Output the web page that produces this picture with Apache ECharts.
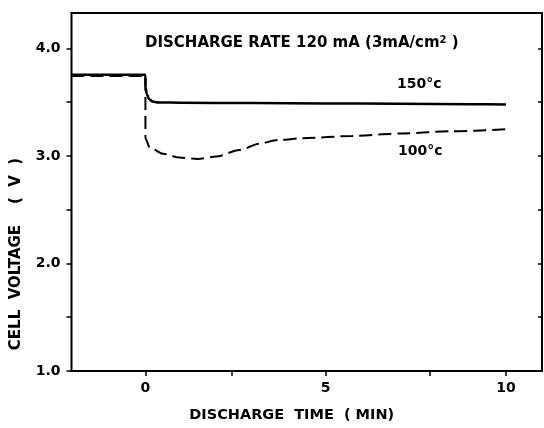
<!DOCTYPE html>
<html><head><meta charset="utf-8">
<script src="https://cdn.jsdelivr.net/npm/echarts@6/dist/echarts.min.js"></script>
<style>html,body{margin:0;padding:0;background:#fff}#c{width:544px;height:428px}</style>
</head><body><div id="c"></div>
<script>
// Data (time in min, voltage in V)
const xTickValues = [0, 2.4, 5, 7.9, 10];
const xLabelValues = [0, 5, 10];
const yTickLabels = [1, 2, 3, 4];
const curve150 = [[-2.05,3.755],[0,3.755],[0.001,3.64],[0.04,3.575],[0.1,3.53],[0.2,3.507],[0.35,3.498],[1,3.495],[3,3.492],[5,3.489],[7,3.486],[9,3.481],[10,3.478]];
const curve100 = [[-2.05,3.745],[0,3.745],[0.001,3.16],[0.12,3.08],[0.49,3.02],[0.95,2.985],[1.45,2.972],[1.96,2.995],[2.61,3.055],[3.16,3.115],[3.67,3.148],[4.36,3.165],[5.74,3.186],[7.12,3.21],[8.5,3.23],[10,3.248]];
const seriesNames = ['150°c', '100°c'];

const font = '"DejaVu Sans",sans-serif';
const chart = echarts.init(document.getElementById('c'));
chart.setOption({
  animation: false,
  backgroundColor: '#fff',
  grid: { left: 71.5, right: 2, top: 13, bottom: 54, show: true, borderColor: '#000', borderWidth: 2 },
  xAxis: {
    type: 'value', min: -2.05, max: 11,
    name: 'DISCHARGE  TIME  ( MIN)', nameLocation: 'middle', nameGap: 37,
    nameTextStyle: { fontFamily: font, fontWeight: 'bold', fontSize: 14.5, color: '#000', padding: [0, 30, 0, 0] },
    axisLine: { show: false, onZero: false },
    axisTick: { show: true, customValues: xTickValues, length: 5, lineStyle: { color: '#000', width: 1.5 } },
    axisLabel: { customValues: xLabelValues, fontFamily: font, fontWeight: 'bold', fontSize: 14, color: '#000', margin: 10 },
    splitLine: { show: false }
  },
  yAxis: [{
    type: 'value', min: 1, max: 4.33, interval: 0.5,
    axisLine: { show: false, onZero: false },
    axisTick: { show: true, length: 5, lineStyle: { color: '#000', width: 1.5 } },
    axisLabel: { fontFamily: font, fontWeight: 'bold', fontSize: 14, color: '#000', margin: 11, showMaxLabel: false,
      formatter: v => yTickLabels.includes(v) ? v.toFixed(1) : '' },
    splitLine: { show: false }
  }, {
    type: 'value', min: 1, max: 4.33, interval: 0.5, position: 'right',
    axisLine: { show: false, onZero: false },
    axisTick: { show: true, inside: true, length: 4, lineStyle: { color: '#000', width: 1.5 } },
    axisLabel: { show: false }, splitLine: { show: false }
  }],
  series: [{
    name: seriesNames[0], type: 'line', data: curve150, showSymbol: false, smooth: 0.3, smoothMonotone: 'x',
    lineStyle: { color: '#000', width: 2.5, type: 'solid' }
  }, {
    name: seriesNames[1], type: 'line', data: curve100, showSymbol: false, smooth: 0.3, smoothMonotone: 'x',
    lineStyle: { color: '#000', width: 2, type: [13, 6] }
  }],
  graphic: [
    { type: 'text', x: 16, y: 254, rotation: Math.PI / 2, style: { text: 'CELL  VOLTAGE    (  V  )', fontFamily: font, fontWeight: 'bold', fontSize: 15, fill: '#000', align: 'center', verticalAlign: 'middle' } },
    { type: 'text', left: 145, top: 35, style: { text: 'DISCHARGE RATE 120 mA (3mA/cm{s|2} )', fontFamily: font, fontWeight: 'bold', fontSize: 15, fill: '#000',
      rich: { s: { fontSize: 10, fontWeight: 'bold', fontFamily: font, verticalAlign: 'top', padding: [0,0,6,0] } } } },
    { type: 'text', left: 397, top: 77, style: { text: seriesNames[0], fontFamily: font, fontWeight: 'bold', fontSize: 14, fill: '#000' } },
    { type: 'text', left: 398, top: 144, style: { text: seriesNames[1], fontFamily: font, fontWeight: 'bold', fontSize: 14, fill: '#000' } }
  ]
});
</script></body></html>
